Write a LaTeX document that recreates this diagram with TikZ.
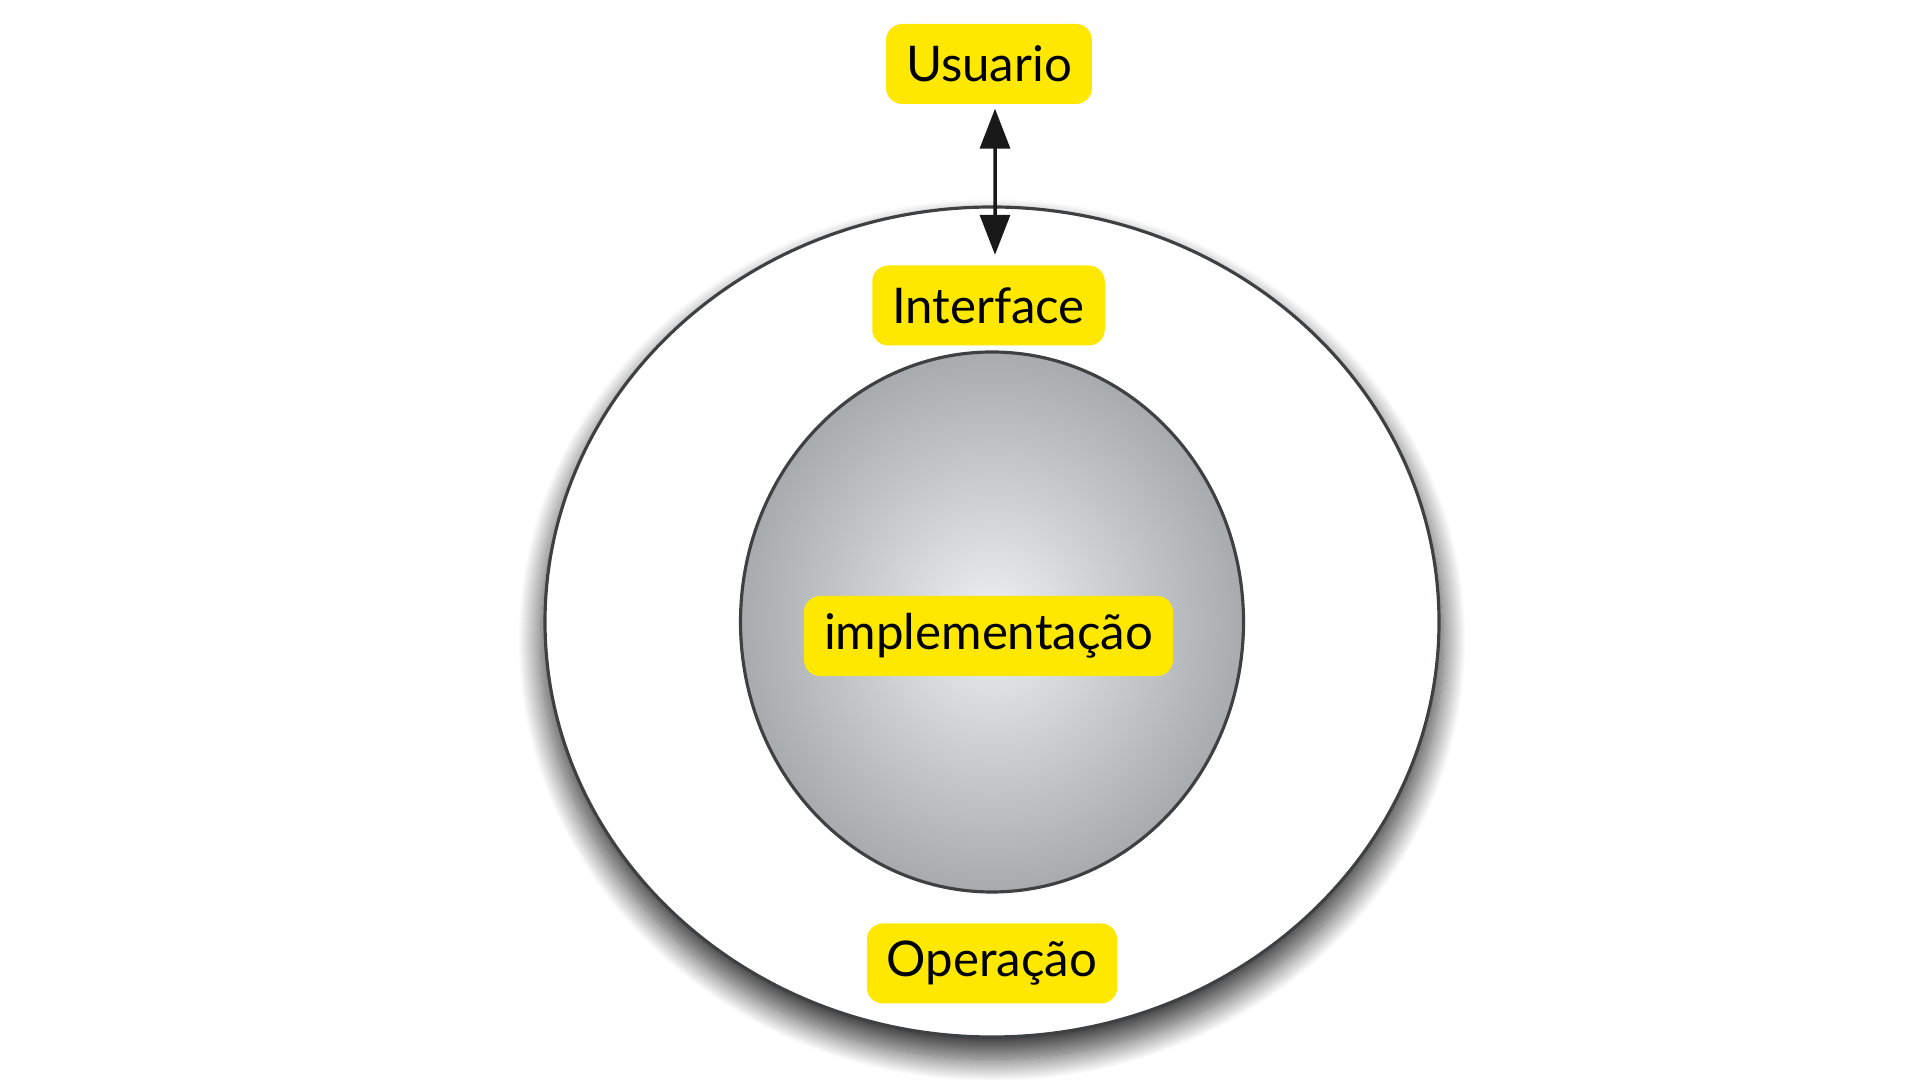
\documentclass[tikz,border=0pt]{standalone}
\usepackage{fontspec}
\setmainfont{Lato}
\usepackage{tikz}
\usetikzlibrary{arrows.meta,positioning,calc,shapes.geometric,shadows.blur}
\definecolor{tg}{HTML}{FFE800}
\definecolor{rim}{HTML}{3E4042}
\definecolor{core}{HTML}{A7ABAE}
\definecolor{glow}{HTML}{EEF0F1}
\tikzset{
  tag/.style={fill=tg, rounded corners=0.16cm, inner xsep=0.2cm, inner ysep=0pt,
    minimum height=0.8cm, font=\fontsize{14}{16}\selectfont, text=black},
  ring/.style={ellipse, draw=rim, line width=0.9pt, inner sep=0pt}
}
\begin{document}
\begin{tikzpicture}
  \useasboundingbox (0,0) rectangle (19.2,10.8);
  \coordinate (c) at (9.92,4.58);
  % outer layer and core
  \node[ring, fill=white, minimum width=8.94cm, minimum height=8.30cm,
    blur shadow={shadow xshift=0cm, shadow yshift=-0.18cm, shadow scale=1.01,
      shadow blur radius=0.22cm, shadow blur steps=30, shadow opacity=75}] (outer) at (c) {};
  \node[ring, shading=radial, inner color=glow, outer color=core,
    minimum width=5.03cm, minimum height=5.40cm] (core) at (c) {};
  % labels
  \node[tag] (usr) at (9.89,10.16) {Usuario};
  \node[tag] (itf) at (9.885,7.745) {Interface};
  \node[tag] (impl) at (9.885,4.44) {implementação};
  \node[tag] (oper) at (9.92,1.165) {Operação};
  \draw[{Triangle[length=0.4cm,width=0.3cm]}-{Triangle[length=0.4cm,width=0.3cm]},
    line width=1pt, draw=black!90, shorten <=0.04cm, shorten >=0.1cm]
    ([xshift=0.06cm]usr.south) -- ([xshift=0.065cm]itf.north);
\end{tikzpicture}
\end{document}
